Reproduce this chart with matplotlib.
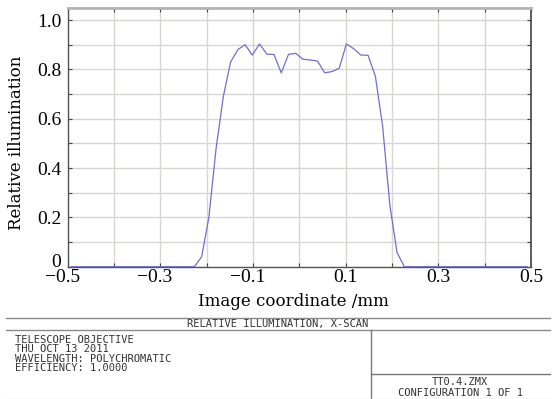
import numpy as np
import matplotlib
matplotlib.use("Agg")
import matplotlib.pyplot as plt
from matplotlib.lines import Line2D
from matplotlib.transforms import ScaledTranslation

# relative illumination x-scan
x_mm = [-0.4922, -0.2422, -0.2266, -0.2109, -0.1953, -0.1797, -0.1641, -0.1484,
        -0.1328, -0.1172, -0.1016, -0.0859, -0.0703, -0.0547, -0.0391, -0.0234,
        -0.0078, 0.0078, 0.0234, 0.0391, 0.0547, 0.0703, 0.0859, 0.1016,
        0.1172, 0.1328, 0.1484, 0.1641, 0.1797, 0.1953, 0.2109, 0.2266,
        0.2422, 0.4922]
rel_ill = [0.0, 0.0, 0.0, 0.04, 0.20, 0.48, 0.69, 0.83,
           0.88, 0.90, 0.858, 0.903, 0.862, 0.860, 0.786, 0.861,
           0.865, 0.841, 0.838, 0.834, 0.786, 0.791, 0.804, 0.903,
           0.884, 0.858, 0.857, 0.772, 0.57, 0.25, 0.057, 0.0,
           0.0, 0.0]

xticks = [-0.5, -0.4, -0.3, -0.2, -0.1, 0.0, 0.1, 0.2, 0.3, 0.4, 0.5]
xticklabels = ["\u22120.5", "", "\u22120.3", "", "\u22120.1", "", "0.1", "", "0.3", "", "0.5"]
yticks = [0.0, 0.1, 0.2, 0.3, 0.4, 0.5, 0.6, 0.7, 0.8, 0.9, 1.0]
yticklabels = ["0", "", "0.2", "", "0.4", "", "0.6", "", "0.8", "", "1.0"]

title_txt = "RELATIVE ILLUMINATION, X-SCAN"
info_lines = ["TELESCOPE OBJECTIVE", "THU OCT 13 2011",
              "WAVELENGTH: POLYCHROMATIC", "EFFICIENCY: 1.0000"]
file_lines = ["TT0.4.ZMX", "CONFIGURATION 1 OF 1"]

W, H = 558, 399
def fx(px):
    return px / W
def fy(py):
    return 1 - py / H

fig = plt.figure(figsize=(W / 100, H / 100), dpi=100)
fig.patch.set_facecolor("white")
ax = fig.add_axes([fx(67.7), fy(266.7), fx(531) - fx(67.7), fy(7.7) - fy(266.7)])

ax.plot(x_mm, rel_ill, color="#6f6fd0", lw=0.9, zorder=3)

ax.set_xlim(-0.5, 0.5)
ax.set_ylim(0, 1.05)
ax.set_xticks(xticks)
ax.set_xticklabels(xticklabels)
ax.set_yticks(yticks)
ax.set_yticklabels(yticklabels)
ax.grid(True, color="#d9d5d2", lw=1.0)
ax.tick_params(direction="in", length=3, color="#444444", top=True, right=True,
               labelsize=14, pad=1.5)
ax.tick_params(axis="y", pad=4.5)
for lab in ax.get_xticklabels() + ax.get_yticklabels():
    lab.set_family("Liberation Serif")
# centre the numeral, not the minus sign, on the tick
shift = ScaledTranslation(-5.5 / 100, 0, fig.dpi_scale_trans)
for lab in ax.get_xticklabels():
    if lab.get_text().startswith("\u2212"):
        lab.set_transform(lab.get_transform() + shift)
# lift the "0" so it clears the -0.5 below it
lift = ScaledTranslation(0, 6.5 / 100, fig.dpi_scale_trans)
y0 = ax.get_yticklabels()[0]
y0.set_transform(y0.get_transform() + lift)

for side in ["left", "bottom"]:
    ax.spines[side].set_color("#555555")
    ax.spines[side].set_linewidth(1.0)
ax.spines["right"].set_color("#505050")
ax.spines["right"].set_linewidth(1.3)
ax.spines["top"].set_color("#b4b4b4")
ax.spines["top"].set_linewidth(2.0)

fig.text(fx(293), fy(306), "Image coordinate /mm", family="DejaVu Serif",
         fontsize=12, ha="center", va="baseline")
fig.text(fx(25), fy(142.5), "Relative illumination", family="DejaVu Serif",
         fontsize=12, rotation=90, ha="right", va="center")

# title block
lc = "#8a8a8a"
fig.add_artist(Line2D([fx(6), fx(550)], [fy(317.7), fy(317.7)], color=lc, lw=1))
fig.add_artist(Line2D([fx(6), fx(550)], [fy(330), fy(330)], color=lc, lw=1))
fig.add_artist(Line2D([fx(370.7), fx(370.7)], [fy(330), fy(399)], color="#777777", lw=1))
fig.add_artist(Line2D([fx(370.7), fx(550)], [fy(374.3), fy(374.3)], color="#777777", lw=1))
fig.add_artist(Line2D([fx(6), fx(550)], [fy(398.5), fy(398.5)], color="#e0e0e0", lw=1))

mono = dict(family="DejaVu Sans Mono", fontsize=7.5, color="#333333", va="baseline")
fig.text(fx(278), fy(327.5), title_txt, ha="center", **mono)
for i, s in enumerate(info_lines):
    fig.text(fx(15), fy(342.7 + 9.4 * i), s, ha="left", **mono)
fig.text(fx(460), fy(385), file_lines[0], ha="center", **mono)
fig.text(fx(460), fy(395.7), file_lines[1], ha="center", **mono)

fig.savefig("out.png", dpi=100)
